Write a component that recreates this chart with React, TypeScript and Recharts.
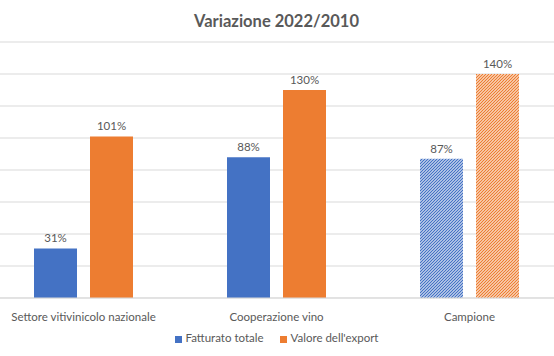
import React from 'react';
import { BarChart, Bar, XAxis, YAxis, CartesianGrid, Legend, LabelList, Cell } from 'recharts';

const title = 'Variazione 2022/2010';
const categories = ['Settore vitivinicolo nazionale', 'Cooperazione vino', 'Campione'];
const fatturatoTotale = [31, 88, 87];
const valoreExport = [101, 130, 140];
const hatched = [false, false, true];
const seriesNames = ['Fatturato totale', "Valore dell'export"];
const yTicks = [0, 20, 40, 60, 80, 100, 120, 140, 160];

const BLUE = '#4472C4';
const ORANGE = '#ED7D31';
const TEXT = '#595959';
const GRID = '#D9D9D9';
const FONT = 'Lato, "Open Sans", sans-serif';

const data = categories.map((name, i) => ({
  name,
  fatturato: fatturatoTotale[i],
  export: valoreExport[i],
  hatched: hatched[i],
}));

const pct = (v: number) => `${v}%`;

export default function App() {
  return (
    <div
      style={{
        position: 'fixed',
        left: 0,
        top: 0,
        width: 554,
        height: 356,
        overflow: 'hidden',
        background: '#fff',
        fontFamily: FONT,
      }}
    >
      <div
        style={{
          position: 'absolute',
          left: 0,
          top: 10,
          width: 553,
          textAlign: 'center',
          fontSize: 16.5,
          lineHeight: '22px',
          fontWeight: 700,
          color: TEXT,
        }}
      >
        {title}
      </div>
      <div style={{ position: 'absolute', left: -13, top: 0 }}>
        <BarChart
          width={600}
          height={356}
          data={data}
          margin={{ top: 42, right: 21, bottom: 10, left: 0 }}
          barGap={13}
          barSize={43}
          style={{ fontFamily: FONT }}
        >
          <defs>
            <pattern id="hatchBlue" patternUnits="userSpaceOnUse" width="3" height="3">
              <rect width="3" height="3" fill="#fff" />
              <path d="M-1,1 l2,-2 M0,3 l3,-3 M2,4 l2,-2" stroke={BLUE} strokeWidth="1.3" />
            </pattern>
            <pattern id="hatchOrange" patternUnits="userSpaceOnUse" width="3" height="3">
              <rect width="3" height="3" fill="#fff" />
              <path d="M-1,1 l2,-2 M0,3 l3,-3 M2,4 l2,-2" stroke={ORANGE} strokeWidth="1.3" />
            </pattern>
          </defs>
          <CartesianGrid vertical={false} stroke={GRID} strokeWidth={1} />
          <XAxis
            dataKey="name"
            height={30}
            tickLine={false}
            tickMargin={9}
            axisLine={{ stroke: GRID }}
            tick={{ fill: TEXT, fontSize: 11.5, fontFamily: FONT }}
            interval={0}
          />
          <YAxis hide width={0} domain={[0, 160]} ticks={yTicks} />
          <Legend
            verticalAlign="bottom"
            iconType="square"
            iconSize={7}
            wrapperStyle={{ height: 15, paddingTop: 3, paddingLeft: 5, fontSize: 11.5, fontFamily: FONT }}
            formatter={(value: string, _entry: unknown, index: number) => (
              <span style={{ color: TEXT, marginRight: index === 0 ? 6 : 0 }}>{value}</span>
            )}
          />
          <Bar dataKey="fatturato" name={seriesNames[0]} fill={BLUE} isAnimationActive={false}>
            {data.map((d, i) => (
              <Cell key={i} fill={d.hatched ? 'url(#hatchBlue)' : BLUE} />
            ))}
            <LabelList
              dataKey="fatturato"
              position="top"
              offset={6}
              formatter={pct}
              style={{ fill: TEXT, fontSize: 11.5, fontFamily: FONT }}
            />
          </Bar>
          <Bar dataKey="export" name={seriesNames[1]} fill={ORANGE} isAnimationActive={false}>
            {data.map((d, i) => (
              <Cell key={i} fill={d.hatched ? 'url(#hatchOrange)' : ORANGE} />
            ))}
            <LabelList
              dataKey="export"
              position="top"
              offset={6}
              formatter={pct}
              style={{ fill: TEXT, fontSize: 11.5, fontFamily: FONT }}
            />
          </Bar>
        </BarChart>
      </div>
    </div>
  );
}
